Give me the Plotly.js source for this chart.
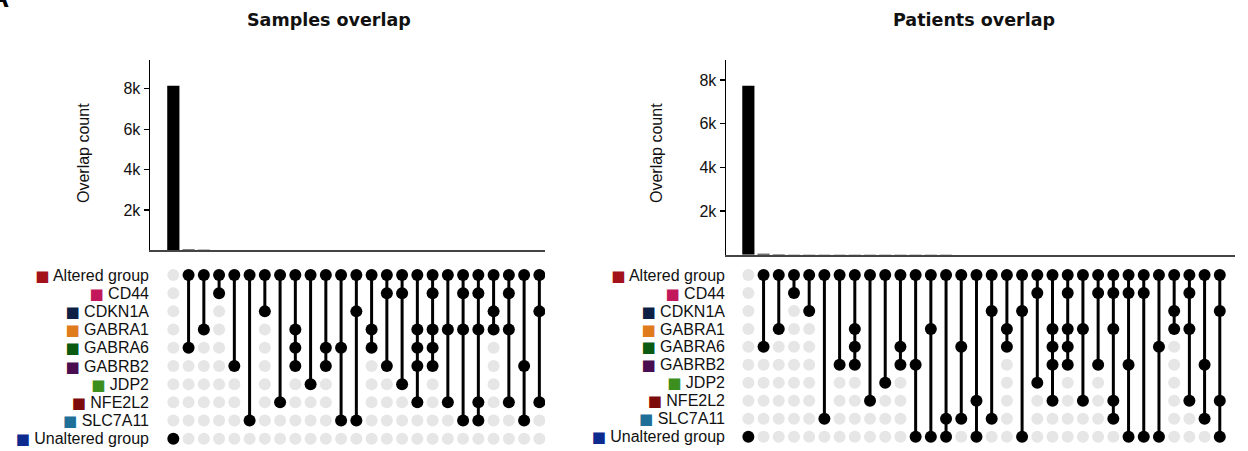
<!DOCTYPE html>
<html>
<head>
<meta charset="utf-8">
<script src="https://cdn.plot.ly/plotly-3.0.1.min.js"></script>
<style>html,body{margin:0;padding:0;background:#fff;}#chart{width:1248px;height:451px;}</style>
</head>
<body>
<div id="chart"></div>
<script>
// ---------- data ----------
const rowLabels = ["Altered group","CD44","CDKN1A","GABRA1","GABRA6","GABRB2","JDP2","NFE2L2","SLC7A11","Unaltered group"];
const rowColors = ["#a3121b","#c2185b","#0d1f44","#e07b1c","#0b5a12","#4a0d4f","#3c8f1d","#7d0b0b","#1f6f98","#0d2a8f"];

// Samples overlap: row indexes of each intersection column
const sampleSets = [[9],[0,4],[0,3],[0,1],[0,5],[0,8],[0,2],[0,7],[0,3,4,5],[0,6],[0,4,5],[0,4,8],[0,2,8],
  [0,3,4],[0,1,5],[0,1,6],[0,3,4,5,7],[0,1,3,4,5],[0,3,7],[0,1,3,8],[0,1,3,7,8],[0,2,3],[0,1,3,7],[0,5,8],[0,2,7]];
const sampleCounts = [8150,45,25,15,12,10,8,7,6,5,5,4,4,3,3,3,3,2,2,2,2,2,2,1,1];

// Patients overlap
const patientSets = [[9],[0,4],[0,3],[0,1],[0,2],[0,8],[0,5],[0,3,4,5],[0,7],[0,6],[0,4,5],[0,5,9],[0,3,9],
  [0,8,9],[0,4,8],[0,7,9],[0,2,8],[0,3,4],[0,2,9],[0,1,6],[0,3,4,5,7],[0,1,3,4,5],[0,3,7],[0,1,5],
  [0,1,3,7,8],[0,1,5,9],[0,1,9],[0,4,9],[0,2,3],[0,1,3,7],[0,5,8],[0,2,7,9]];
const patientCounts = [7740,40,20,14,12,10,8,7,6,5,5,4,4,4,3,3,3,3,2,2,2,2,2,2,2,1,1,1,1,1,1,1];

const yTickVals = [2000,4000,6000,8000];
const yTickText = ["2k","4k","6k","8k"];

// ---------- helpers ----------
const W = 1248, H = 451;
const px = x => x / W;
const py = y => 1 - y / H;
const FONT = "Liberation Sans, Arial, sans-serif";

function matrixTraces(sets, xa, ya) {
  const gx = [], gy = [], bx = [], by = [], lx = [], ly = [];
  sets.forEach((s, i) => {
    const lo = Math.min(...s), hi = Math.max(...s);
    for (let r = 0; r < rowLabels.length; r++) {
      if (s.includes(r)) { bx.push(i); by.push(r); }
      else if (r < lo || r > hi) { gx.push(i); gy.push(r); }
    }
    if (hi > lo) { lx.push(i, i, null); ly.push(lo, hi, null); }
  });
  return [
    {type:"scatter", mode:"markers", x:gx, y:gy, xaxis:xa, yaxis:ya, hoverinfo:"skip",
     marker:{size:12, color:"#e6e6e6"}, showlegend:false},
    {type:"scatter", mode:"lines", x:lx, y:ly, xaxis:xa, yaxis:ya, hoverinfo:"skip",
     line:{color:"#000", width:3}, showlegend:false},
    {type:"scatter", mode:"markers", x:bx, y:by, xaxis:xa, yaxis:ya, hoverinfo:"skip",
     marker:{size:12, color:"#000"}, showlegend:false}
  ];
}

const tickText = rowLabels.map((l, i) =>
  `<span style="color:${rowColors[i]};font-size:15px;font-family:'DejaVu Sans'">■</span> ${l}`);

const traces = [
  {type:"bar", x:sampleCounts.map((_, i) => i), y:sampleCounts, width:0.8, marker:{color:"#000"},
   xaxis:"x", yaxis:"y", hoverinfo:"skip", showlegend:false},
  ...matrixTraces(sampleSets, "x2", "y2"),
  {type:"bar", x:patientCounts.map((_, i) => i), y:patientCounts, width:0.8, marker:{color:"#000"},
   xaxis:"x3", yaxis:"y3", hoverinfo:"skip", showlegend:false},
  ...matrixTraces(patientSets, "x4", "y4")
];

const barX = (d, r) => ({domain:d, range:r, showline:true, linecolor:"#444", linewidth:2,
  showticklabels:false, ticks:"", showgrid:false, zeroline:false, fixedrange:true});
const barY = (d, r, anchor) => ({domain:d, range:r, anchor:anchor, showline:true, linecolor:"#000", linewidth:1.5,
  ticks:"outside", ticklen:5, tickwidth:1.2, tickcolor:"#000", tickvals:yTickVals, ticktext:yTickText,
  tickfont:{family:FONT, size:16, color:"#111"}, showgrid:false, zeroline:false, fixedrange:true});
const matX = (d, r) => ({domain:d, range:r, visible:false, fixedrange:true});
const matY = (d, r, anchor) => ({domain:d, range:r, anchor:anchor, tickvals:rowLabels.map((_, i) => i),
  ticktext:tickText, ticks:"", showline:false, showgrid:false, zeroline:false,
  tickfont:{family:FONT, size:16, color:"#111"}, fixedrange:true});

const leftXD = [px(150), px(545)], leftXR = [-1.53, 24.37];
const rightXD = [px(726), px(1235)], rightXR = [-1.47, 32.0];

const layout = {
  width: W, height: H,
  margin:{l:0, r:0, t:0, b:0},
  paper_bgcolor:"#fff", plot_bgcolor:"rgba(0,0,0,0)",
  showlegend:false,
  xaxis: Object.assign(barX(leftXD, leftXR), {anchor:"y"}),
  yaxis: barY([py(250.3), py(60)], [0, 9430], "x"),
  xaxis2: Object.assign(matX(leftXD, leftXR), {anchor:"y2"}),
  yaxis2: matY([py(450), py(262)], [9.62, -0.714], "x2"),
  xaxis3: Object.assign(barX(rightXD, rightXR), {anchor:"y3"}),
  yaxis3: barY([py(254.7), py(60)], [0, 8920], "x3"),
  xaxis4: Object.assign(matX(rightXD, rightXR), {anchor:"y4"}),
  yaxis4: matY([py(450), py(262)], [9.74, -0.723], "x4"),
  annotations:[
    {text:"<b>Samples overlap</b>", xref:"paper", yref:"paper", x:px(329), y:py(20), xanchor:"center", yanchor:"middle",
     showarrow:false, font:{family:"DejaVu Sans, Verdana, sans-serif", size:17.5, color:"#111"}},
    {text:"<b>Patients overlap</b>", xref:"paper", yref:"paper", x:px(974), y:py(20), xanchor:"center", yanchor:"middle",
     showarrow:false, font:{family:"DejaVu Sans, Verdana, sans-serif", size:17.5, color:"#111"}},
    {text:"Overlap count", xref:"paper", yref:"paper", x:px(83), y:py(153), xanchor:"center", yanchor:"middle",
     textangle:-90, showarrow:false, font:{family:FONT, size:16, color:"#111"}},
    {text:"Overlap count", xref:"paper", yref:"paper", x:px(656), y:py(153), xanchor:"center", yanchor:"middle",
     textangle:-90, showarrow:false, font:{family:FONT, size:16, color:"#111"}},
    {text:"<b>A</b>", xref:"paper", yref:"paper", x:px(11), y:py(15), xanchor:"right", yanchor:"bottom",
     showarrow:false, font:{family:FONT, size:28, color:"#000"}}
  ]
};

Plotly.newPlot("chart", traces, layout, {staticPlot:true, displayModeBar:false});
</script>
</body>
</html>
